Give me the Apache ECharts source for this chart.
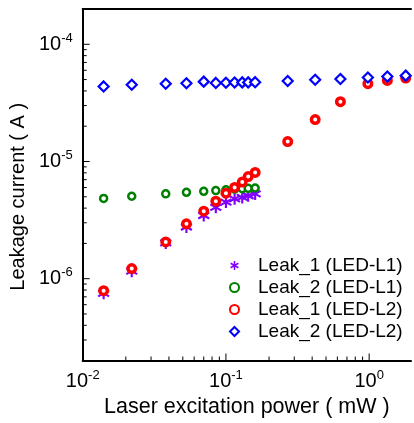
<!DOCTYPE html>
<html>
<head>
<meta charset="utf-8">
<script src="https://cdn.jsdelivr.net/npm/echarts@6/dist/echarts.min.js"></script>
<style>
  html, body { margin: 0; padding: 0; background: #fff; }
  #container { width: 414px; height: 423px; }
</style>
</head>
<body>
<div id="container"></div>
<script>
// laser power (mW), shared by all series
const power = [0.014, 0.022, 0.038, 0.053, 0.07, 0.085, 0.1, 0.115, 0.13, 0.143, 0.16, 0.27, 0.42, 0.63, 0.98, 1.34, 1.8]

// leakage currents (A)
const leak1L1 = [7.5e-7, 1.16e-6, 2.02e-6, 2.76e-6, 3.46e-6, 4.06e-6, 4.5e-6, 4.8e-6, 4.93e-6, 5.1e-6, 5.28e-6]
const leak2L1 = [4.84e-6, 5.05e-6, 5.3e-6, 5.46e-6, 5.57e-6, 5.65e-6, 5.74e-6, 5.82e-6, 5.86e-6, 5.9e-6, 5.94e-6]
const leak1L2 = [7.9e-7, 1.22e-6, 2.06e-6, 2.94e-6, 3.77e-6, 4.58e-6, 5.36e-6, 6.0e-6, 6.68e-6, 7.43e-6, 8.07e-6, 1.48e-5, 2.28e-5, 3.24e-5, 4.61e-5, 4.92e-5, 5.15e-5]
const leak2L2 = [4.37e-5, 4.52e-5, 4.6e-5, 4.65e-5, 4.8e-5, 4.68e-5, 4.7e-5, 4.72e-5, 4.73e-5, 4.73e-5, 4.75e-5, 4.86e-5, 4.98e-5, 5.05e-5, 5.2e-5, 5.3e-5, 5.4e-5]

// ticks
const xMajor = [0.01, 0.1, 1]
const xMinor = [0.02, 0.03, 0.04, 0.05, 0.06, 0.07, 0.08, 0.09, 0.2, 0.3, 0.4, 0.5, 0.6, 0.7, 0.8, 0.9]
const yMajor = [1e-6, 1e-5, 1e-4]
const yMinor = [3e-7, 4e-7, 5e-7, 6e-7, 7e-7, 8e-7, 9e-7, 2e-6, 3e-6, 4e-6, 5e-6, 6e-6, 7e-6, 8e-6, 9e-6,
  2e-5, 3e-5, 4e-5, 5e-5, 6e-5, 7e-5, 8e-5, 9e-5]

const font = 'Liberation Sans'
const zip = (xs, ys) => ys.map((y, i) => [xs[i], y])

const xRange = { min: 0.01, max: 1.96 }
const yRange = { min: 2e-7, max: 2e-4 }

// only label whole decades, as 10 with a superscript exponent
const powLabel = (v) => {
  const e = Math.round(Math.log10(v))
  if (Math.abs(Math.log10(v) - e) > 1e-6) return ''
  return '{b|10}{s|' + e + '}'
}
const labelRich = {
  b: { fontSize: 20, fontFamily: font, color: '#000' },
  s: { fontSize: 13, fontFamily: font, color: '#000', padding: [0, 0, 12, 0] }
}

// inward tick marks as thin rect symbols sitting on the axes
function tickSeries(values, len, isY) {
  return {
    type: 'scatter',
    silent: true,
    clip: false,
    symbol: 'rect',
    symbolSize: isY ? [len, 1] : [1, len],
    symbolOffset: isY ? [len / 2, 0] : [0, -len / 2],
    itemStyle: { color: '#000', opacity: 1 },
    data: values.map(v => isY ? [xRange.min, v] : [v, yRange.min])
  }
}

// asterisk marker
const star = 'path://M-0.17,-1L0.17,-1L0.17,1L-0.17,1Z' +
  'M0.781,-0.647L0.951,-0.353L-0.781,0.647L-0.951,0.353Z' +
  'M-0.951,-0.353L-0.781,-0.647L0.951,0.353L0.781,0.647Z'

const myChart = echarts.init(document.getElementById('container'))

myChart.setOption({
  animation: false,
  grid: {
    left: 82,
    right: -2,
    top: 9,
    bottom: 61
  },
  legend: {
    orient: 'vertical',
    left: 224,
    top: 251,
    itemWidth: 9,
    itemHeight: 9,
    itemGap: 3,
    textStyle: { fontSize: 19, fontFamily: font, color: '#000', padding: [0, 0, 0, 14] },
    data: ['Leak_1 (LED-L1)', 'Leak_2 (LED-L1)', 'Leak_1 (LED-L2)', 'Leak_2 (LED-L2)']
  },
  xAxis: [{
    type: 'log',
    ...xRange,
    name: 'Laser excitation power ( mW )',
    nameLocation: 'middle',
    nameGap: 35,
    nameTextStyle: { fontSize: 21.5, fontFamily: font, color: '#000' },
    axisLine: { show: true, lineStyle: { color: '#000', width: 2 } },
    axisTick: { show: false },
    axisLabel: { formatter: powLabel, rich: labelRich, margin: 8, showMinLabel: true, showMaxLabel: true },
    splitLine: { show: false }
  }, {
    // top frame line
    type: 'log',
    ...xRange,
    position: 'top',
    axisLine: { show: true, lineStyle: { color: '#000', width: 2 } },
    axisTick: { show: false },
    axisLabel: { show: false },
    splitLine: { show: false }
  }],
  yAxis: {
    type: 'log',
    ...yRange,
    name: 'Leakage current ( A )',
    nameLocation: 'middle',
    nameGap: 52,
    nameTextStyle: { fontSize: 20, fontFamily: font, color: '#000', padding: [0, 24, 0, 0] },
    axisLine: { show: true, lineStyle: { color: '#000', width: 2 } },
    axisTick: { show: false },
    axisLabel: { formatter: powLabel, rich: labelRich, margin: 10 },
    splitLine: { show: false }
  },
  series: [
    tickSeries(xMajor, 7, false),
    tickSeries(xMinor, 4, false),
    tickSeries(yMajor, 7, true),
    tickSeries(yMinor, 4, true),
    {
      name: 'Leak_1 (LED-L1)',
      type: 'scatter',
      symbol: star,
      symbolSize: 12,
      itemStyle: { color: '#8000ff', opacity: 1 },
      data: zip(power, leak1L1)
    },
    {
      name: 'Leak_2 (LED-L1)',
      type: 'scatter',
      symbol: 'circle',
      symbolSize: 7,
      itemStyle: { color: '#fff', borderColor: '#008000', borderWidth: 2.5, opacity: 1 },
      data: zip(power, leak2L1)
    },
    {
      name: 'Leak_1 (LED-L2)',
      type: 'scatter',
      symbol: 'circle',
      symbolSize: 7.5,
      itemStyle: { color: '#fff', borderColor: '#ff0000', borderWidth: 3.5, opacity: 1 },
      data: zip(power, leak1L2)
    },
    {
      name: 'Leak_2 (LED-L2)',
      type: 'scatter',
      symbol: 'diamond',
      symbolSize: 10,
      itemStyle: { color: '#fff', borderColor: '#0000ff', borderWidth: 2.2, opacity: 1 },
      data: zip(power, leak2L2)
    }
  ]
})
</script>
</body>
</html>
